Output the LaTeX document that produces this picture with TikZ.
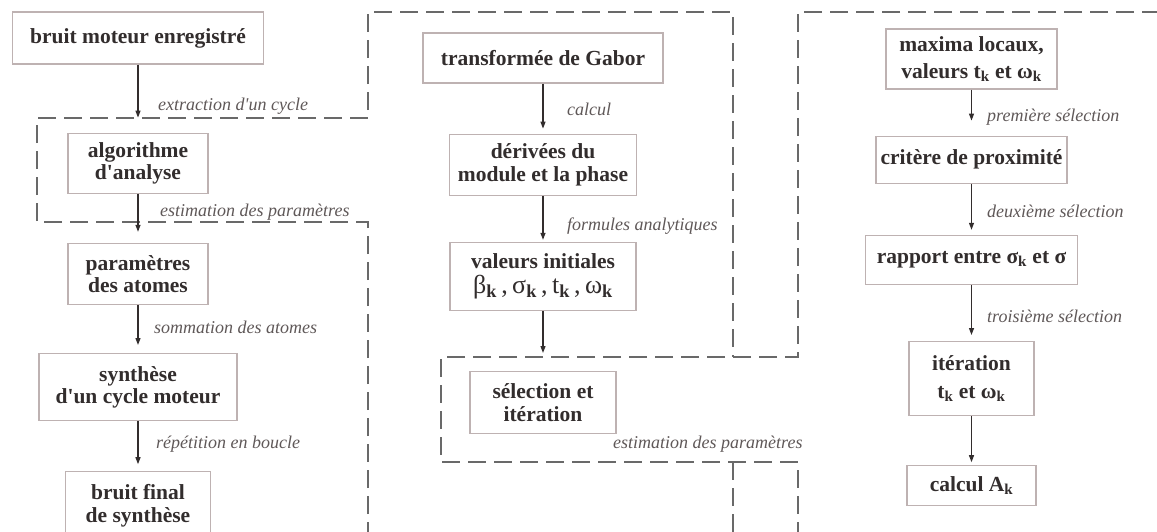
\documentclass[tikz,border=0pt]{standalone}
\usepackage{fontspec}
\setmainfont{Liberation Serif}
\usepackage{tikz}
\usetikzlibrary{positioning, arrows.meta}
\definecolor{boxline}{RGB}{190,178,178}
\definecolor{txtdark}{RGB}{50,45,45}
\definecolor{lblgray}{RGB}{95,88,88}
\definecolor{dashgray}{RGB}{105,105,105}
\newcommand{\sbk}{\textsubscript{\bfseries k}}
\tikzset{
  proc/.style={
    draw=boxline, rectangle, line width=1.2pt,
    fill=white, text=txtdark, inner sep=0pt,
    font=\fontsize{21.5}{22.5}\selectfont\bfseries, align=center
  },
  lbl/.style={
    anchor=base west, inner sep=0pt, text=lblgray,
    font=\fontsize{18}{20}\selectfont\itshape
  },
  harr/.style={-{Triangle[length=7pt, width=5pt]}, line width=1.2pt, draw=txtdark},
  zone/.style={draw=dashgray, line width=1.3pt, dash pattern=on 18pt off 8pt},
}

\begin{document}
\begin{tikzpicture}[x=1pt, y=-1pt]
    \useasboundingbox (0,0) rectangle (1157,531);
    \draw[zone] (368,540) -- (368,222) -- (37,222) -- (37,118) -- (368,118)
      -- (368,12) -- (733,12) -- (733,357);
    \draw[zone] (733,462) -- (733,540);
    \draw[zone] (1160,12) -- (798,12) -- (798,357) -- (441,357) -- (441,462)
      -- (798,462) -- (798,540);

    \node[proc, minimum width=251pt, minimum height=52pt] (brut) at (138,38) {bruit moteur enregistré};
    \node[proc, minimum width=140pt, minimum height=60pt, below=68pt of brut]  (algo)  {algorithme\\d\textquotesingle analyse};
    \node[proc, minimum width=140pt, minimum height=61pt, below=49pt of algo]  (param) {paramètres\\des atomes};
    \node[proc, minimum width=198pt, minimum height=67pt, below=48pt of param] (synth) {synthèse\\d\textquotesingle un cycle moteur};
    \node[proc, minimum width=145pt, minimum height=68pt, below=50pt of synth] (final) {bruit final\\de synthèse};
    \draw[harr, shorten >=15pt] (brut)--(algo);
    \draw[harr, shorten >=11pt] (algo)--(param);
    \draw[harr, shorten >=8pt]  (param)--(synth);
    \draw[harr, shorten >=7pt]  (synth)--(final);
    \node[lbl] (extr) at (158,110) {extraction d\textquotesingle un cycle};
    \node[lbl] (esta) at (160,216) {estimation des paramètres};
    \node[lbl] (somm) at (154,333) {sommation des atomes};
    \node[lbl] (repe) at (156,448) {répétition en boucle};

    \node[proc, minimum width=240pt, minimum height=50pt] (gabor) at (543,58) {transformée de Gabor};
    \node[proc, minimum width=187pt, minimum height=61pt, below=50pt of gabor] (deriv) {dérivées du\\module et la phase};
    \node[proc, minimum width=186pt, minimum height=68pt, below=46pt of deriv] (init)
      {valeurs initiales\\[3pt]{\fontsize{26}{26}\selectfont\mdseries β\sbk\,,\,σ\sbk\,,\,t\sbk\,,\,ω\sbk}};
    \node[proc, minimum width=146pt, minimum height=62pt, below=60pt of init]  (selec) {sélection et\\itération};
    \draw[harr, shorten >=5pt]  (gabor)--(deriv);
    \draw[harr, shorten >=2pt]  (deriv)--(init);
    \draw[harr, shorten >=18pt] (init)--(selec);
    \node[lbl] (calc) at (567,115) {calcul};
    \node[lbl] (form) at (567,230) {formules analytiques};
    \node[lbl] (estb) at (613,448) {estimation des paramètres};

    \node[proc, minimum width=171pt, minimum height=60pt] (maxi) at (971.5,59)
      {maxima locaux,\\[5pt]valeurs t\sbk{} et ω\sbk};
    \node[proc, minimum width=191pt, minimum height=47pt, below=46pt of maxi] (crit) {critère de proximité};
    \node[proc, minimum width=212pt, minimum height=49pt, below=51pt of crit] (rapp) {rapport entre σ\sbk{} et σ};
    \node[proc, minimum width=125pt, minimum height=74pt, below=56pt of rapp] (iter)
      {itération\\[5pt]t\sbk{} et ω\sbk};
    \node[proc, minimum width=129pt, minimum height=40pt, below=49pt of iter] (ampl) {calcul A\sbk};
    \draw[harr, shorten >=15pt] (maxi)--(crit);
    \draw[harr, shorten >=5pt]  (crit)--(rapp);
    \draw[harr, shorten >=6pt]  (rapp)--(iter);
    \draw[harr, shorten >=3pt]  (iter)--(ampl);
    \node[lbl] (prem) at (987,121) {première sélection};
    \node[lbl] (deux) at (987,217) {deuxième sélection};
    \node[lbl] (troi) at (987,322) {troisième sélection};
  \end{tikzpicture}
\end{document}
